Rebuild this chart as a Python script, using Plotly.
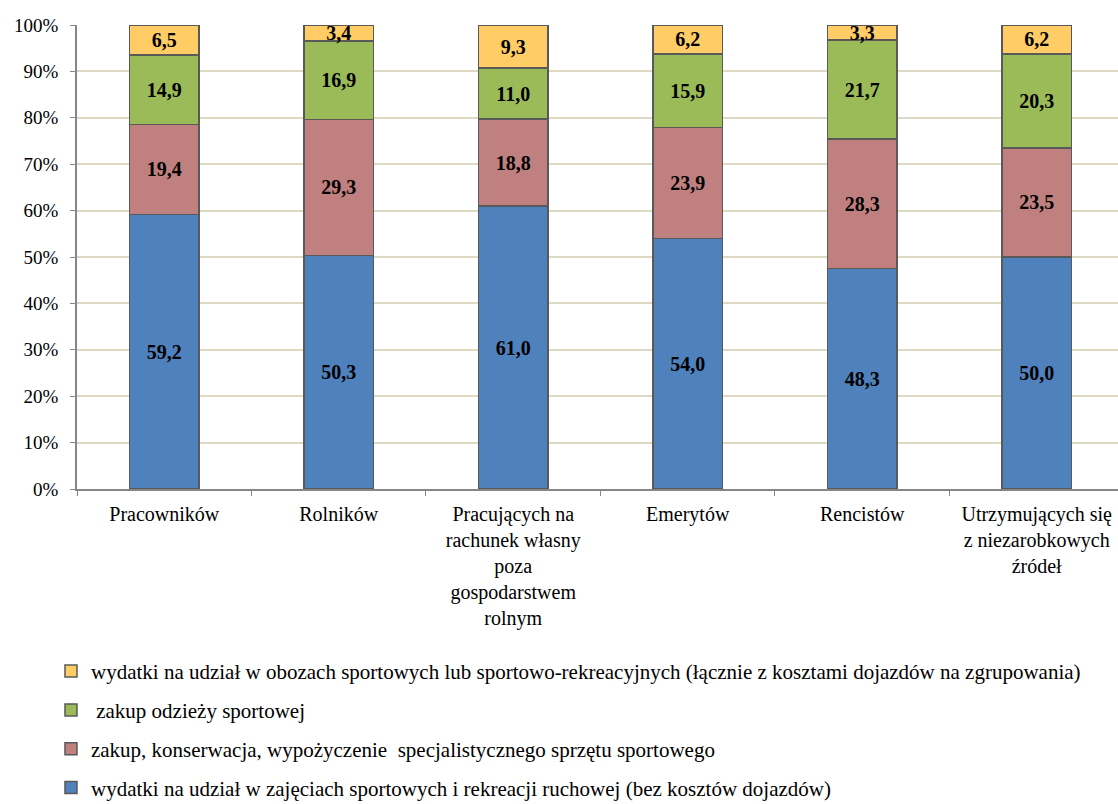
import plotly.graph_objects as go

categories = ["Pracowników", "Rolników",
              "Pracujących na<br>rachunek własny<br>poza<br>gospodarstwem<br>rolnym",
              "Emerytów", "Rencistów",
              "Utrzymujących się<br>z niezarobkowych<br>źródeł"]

zajecia = [59.2, 50.3, 61.0, 54.0, 48.3, 50.0]
sprzet = [19.4, 29.3, 18.8, 23.9, 28.3, 23.5]
odziez = [14.9, 16.9, 11.0, 15.9, 21.7, 20.3]
obozy = [6.5, 3.4, 9.3, 6.2, 3.3, 6.2]

SERIF = "Liberation Serif"

series = [
    ("wydatki na udział w zajęciach sportowych i rekreacji ruchowej (bez kosztów dojazdów)", zajecia, "#4F81BD"),
    ("zakup, konserwacja, wypożyczenie  specjalistycznego sprzętu sportowego", sprzet, "#C0807F"),
    (" zakup odzieży sportowej", odziez, "#9BBB59"),
    ("wydatki na udział w obozach sportowych lub sportowo-rekreacyjnych (łącznie z kosztami dojazdów na zgrupowania)", obozy, "#FFCC66"),
]

fig = go.Figure()
for i, (name, vals, col) in enumerate(series):
    fig.add_trace(go.Bar(
        x=categories, y=vals, name=name, legendgroup=str(i), legendrank=10 - i,
        marker=dict(color=col, line=dict(color="#595959", width=1.5)),
        text=[f"{v:.1f}".replace(".", ",") for v in vals],
        textposition="inside", insidetextanchor="middle",
        textfont=dict(family=SERIF, size=20, color="black", weight="bold"),
        width=0.4,
    ))

fig.update_layout(
    width=1118, height=804,
    barmode="stack", barnorm="percent",
    paper_bgcolor="white", plot_bgcolor="white",
    margin=dict(l=77, r=0, t=25, b=315, autoexpand=False),
    font=dict(family=SERIF, size=20, color="black"),
    uniformtext=dict(minsize=20, mode="show"),
    legend=dict(traceorder="grouped", tracegroupgap=8.5,
                x=-0.025, xanchor="left", y=-0.349, yanchor="top",
                font=dict(family=SERIF, size=21), itemwidth=30),
    showlegend=True,
)
fig.update_yaxes(range=[0, 100], dtick=10, ticksuffix="%",
                 showgrid=True, gridcolor="#DDD9C3", gridwidth=1.5,
                 showline=True, linecolor="#868686", linewidth=1.5,
                 ticks="outside", ticklen=5, tickcolor="#868686",
                 ticklabelstandoff=8,
                 tickfont=dict(family=SERIF, size=19), zeroline=False)
fig.update_xaxes(range=[-0.5, 5.466], tickson="boundaries",
                 showline=True, linecolor="#868686", linewidth=1.5,
                 ticks="outside", ticklen=5, tickcolor="#868686",
                 ticklabelstandoff=6,
                 tickfont=dict(family=SERIF, size=20), tickangle=0)

# drop the browser's default 8px body margin so the figure fills the window
fig.write_html("out.html", config={"displayModeBar": False},
               post_script="document.body.style.margin='0';document.body.style.overflow='hidden';")
